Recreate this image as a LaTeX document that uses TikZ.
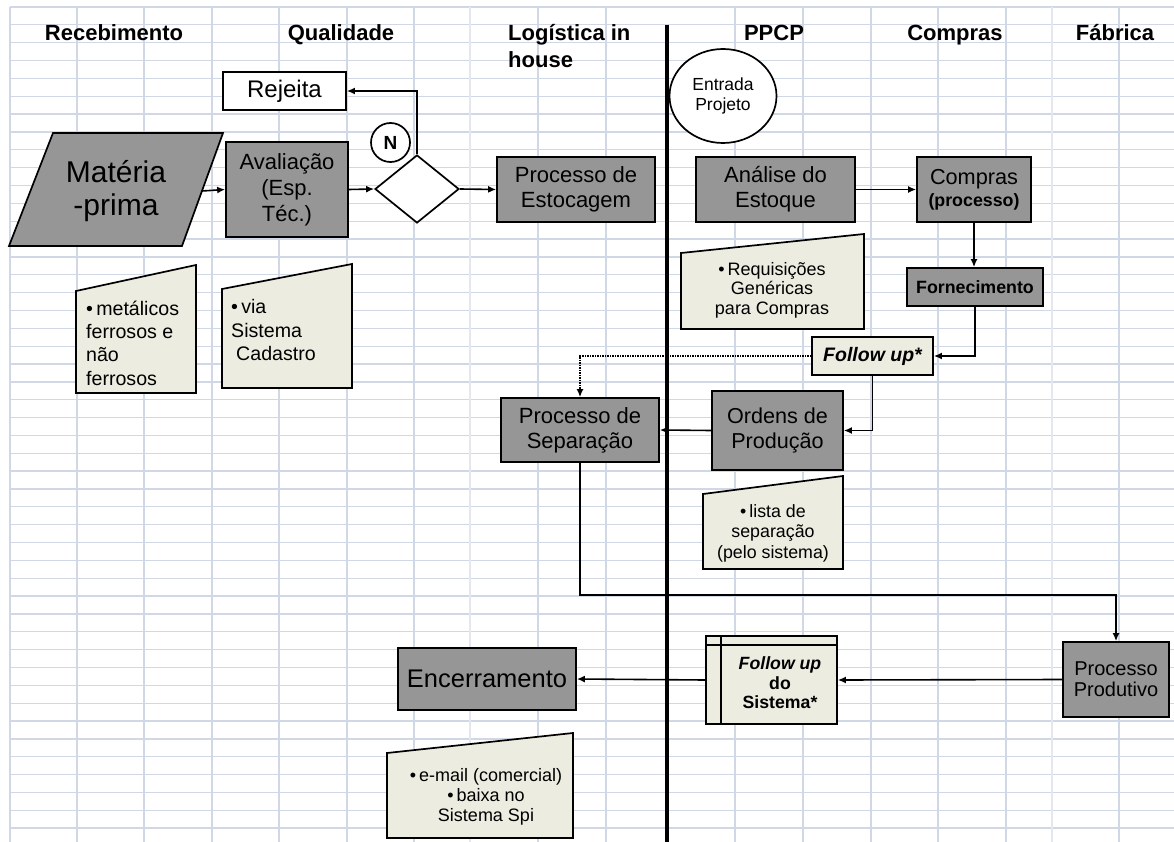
\documentclass[tikz,border=0pt]{standalone}
\usepackage{fontspec}
\setmainfont{Liberation Sans}
\usetikzlibrary{shapes.geometric,arrows.meta}
\definecolor{gridc}{HTML}{D0D7E5}
\definecolor{gridl}{HTML}{E4E7EF}
\definecolor{boxgray}{HTML}{969696}
\definecolor{notefill}{HTML}{ECECE0}
\newcommand\fsz[2]{\fontsize{#1}{#2}\selectfont}
\begin{document}
\begin{tikzpicture}[x=1pt,y=-1pt,
  proc/.style={draw,line width=1.7pt,fill=boxgray,align=center,inner sep=0pt},
  whitebox/.style={draw,line width=1.7pt,fill=white,align=center,inner sep=0pt},
  notebox/.style={draw,line width=1.7pt,fill=notefill,align=center,inner sep=0pt},
  note/.style={draw,line width=1.7pt,fill=notefill},
  txt/.style={inner sep=0pt,align=center},
  head/.style={inner sep=0pt,anchor=base,font=\bfseries\fsz{22}{27}},
  conn/.style={line width=1.6pt,-{Latex[length=8pt,width=7pt]}},
  gline/.style={gridc,line width=1.3pt},
  glight/.style={gridl,line width=1.3pt}
]
\useasboundingbox (0,0) rectangle (1174,842);
\fill[white] (0,0) rectangle (1174,842);
% grid
\foreach \k in {0,...,46} \draw[gline] (10,{7+17.85*\k}) -- (1174,{7+17.85*\k});
\foreach \x in {10,77,144,212,279,347,414,538,606,735,803,871,938,1006,1119} \draw[gline] (\x,7) -- (\x,842);
\foreach \x in {470,1052} \draw[glight] (\x,7) -- (\x,842);
% separator
\draw[line width=4pt] (667,25) -- (667,842);
% headers
\node[head] (h1) at (114,41) {Recebimento};
\node[head] (h2) at (341,41) {Qualidade};
\node[head,anchor=base west,align=left] (h3) at (508,68) {Logística in\\house};
\node[head] (h4) at (774,41) {PPCP};
\node[head] (h5) at (955,41) {Compras};
\node[head] (h6) at (1115,41) {Fábrica};
% materia-prima
\path[draw,line width=1.7pt,fill=boxgray] (53,133) -- (223,133) -- (182,246) -- (9,246) -- cycle;
\node[txt,minimum width=172pt,font=\fsz{30}{33}] (mp) at (116,191) {Matéria\\-prima};
% boxes
\node[whitebox,minimum width=123pt,minimum height=38pt,font=\fsz{24}{28}] (rej) at (284.5,91) {Rejeita};
\node[proc,minimum width=122pt,minimum height=95pt,font=\fsz{22}{26}] (aval) at (287,189.5) {Avaliação\\(Esp.\\Téc.)};
\node[draw,line width=1.7pt,fill=white,diamond,minimum width=84pt,minimum height=68pt,inner sep=0pt] (dia) at (417,189) {};
\node[draw,line width=1.7pt,fill=white,circle,minimum size=39pt,inner sep=0pt,font=\bfseries\fsz{19}{22}] (nn) at (390.5,142.5) {N};
\node[proc,minimum width=158pt,minimum height=65pt,font=\fsz{22}{25}] (est) at (576,189.5) {Processo de\\Estocagem};
\node[draw,line width=1.7pt,fill=white,ellipse,minimum width=107pt,minimum height=94pt,inner sep=0pt,align=center,font=\fsz{17.5}{20}] (ent) at (723,96) {Entrada\\Projeto};
\node[proc,minimum width=159pt,minimum height=65pt,font=\fsz{22}{25}] (ana) at (775.5,189.5) {Análise do\\Estoque};
\node[proc,minimum width=114pt,minimum height=65pt,font=\fsz{21.7}{22}] (comp) at (974,189.5) {Compras\\{\bfseries\fsz{17.8}{20}(processo)}};
\node[proc,minimum width=136pt,minimum height=38pt,font=\bfseries\fsz{17.8}{20}] (forn) at (975,287) {Fornecimento};
\node[notebox,minimum width=121pt,minimum height=38pt,font=\bfseries\itshape\fsz{19.5}{22}] (fup) at (872.5,356) {Follow up*};
\node[proc,minimum width=131pt,minimum height=79pt,font=\fsz{21.6}{25}] (ord) at (777.5,430.5) {Ordens de\\Produção};
\node[proc,minimum width=158pt,minimum height=64pt,font=\fsz{22}{25}] (sep) at (580,430) {Processo de\\Separação};
\node[proc,minimum width=106pt,minimum height=75pt,font=\fsz{20}{21}] (prod) at (1116,679.5) {Processo\\Produtivo};
\node[notebox,minimum width=131pt,minimum height=88pt] (fus) at (771.5,680) {};
\draw[line width=1.7pt] ([xshift=16pt]fus.north west) -- ([xshift=16pt]fus.south west);
\draw[line width=1.7pt] ([yshift=-10pt]fus.north west) -- ([yshift=-10pt]fus.north east);
\node[txt,font=\bfseries\fsz{17.7}{19.5}] (fust) at (780,683) {\itshape Follow up\\do\\Sistema*};
\node[proc,minimum width=178pt,minimum height=62pt,font=\fsz{25.5}{28}] (enc) at (487,679) {Encerramento};
% callouts
\path[note] (76,291) -- (196,265) -- (196,393) -- (76,393) -- cycle;
\node[txt,anchor=west,align=left,font=\fsz{19.6}{23.3}] (c1) at (86,343) {•\,metálicos\\ferrosos e\\não\\ferrosos};
\path[note] (222,289) -- (352,264) -- (352,388) -- (222,388) -- cycle;
\node[txt,anchor=west,align=left,font=\fsz{19.6}{23.3}] (c2) at (231,330) {•\,via\\Sistema\\\hspace{5pt}Cadastro};
\path[note] (681,253) -- (864,234) -- (864,329) -- (681,329) -- cycle;
\node[txt,font=\fsz{18}{19.5}] (c3) at (772,290) {•\,Requisições\\Genéricas\\para Compras};
\path[note] (703,494) -- (843,476) -- (843,569) -- (703,569) -- cycle;
\node[txt,font=\fsz{17.8}{20.5}] (c4) at (773,533) {•\,lista de\\separação\\(pelo sistema)};
\path[note] (387,753) -- (573,733) -- (573,838) -- (387,838) -- cycle;
\node[txt,font=\fsz{18}{20}] (c5) at (486,797) {•\,e-mail (comercial)\\•\,baixa no\\Sistema Spi};
% connectors
\draw[conn] (mp.east) -- (aval.west);
\draw[conn] (aval.east) -- (dia.west);
\draw[conn] (dia.north) |- (rej.east);
\draw[conn] (dia.east) -- (est.west);
\draw[conn] (ana.east) -- (comp.west);
\draw[conn] (comp.south) -- (comp.south |- forn.north);
\draw[conn] (forn.south) |- (fup.east);
\draw[conn,dash pattern=on 1.5pt off 1pt] (fup.west) -| (sep.north);
\draw[conn] (fup.south) |- (ord.east);
\draw[conn] (ord.west) -- (sep.east);
\coordinate (bend) at (579,595);
\draw[conn] (sep.south) -- (sep.south |- bend) -| (prod.north);
\draw[conn] (prod.west) -- (fus.east);
\draw[conn] (fus.west) -- (enc.east);
\end{tikzpicture}
\end{document}
